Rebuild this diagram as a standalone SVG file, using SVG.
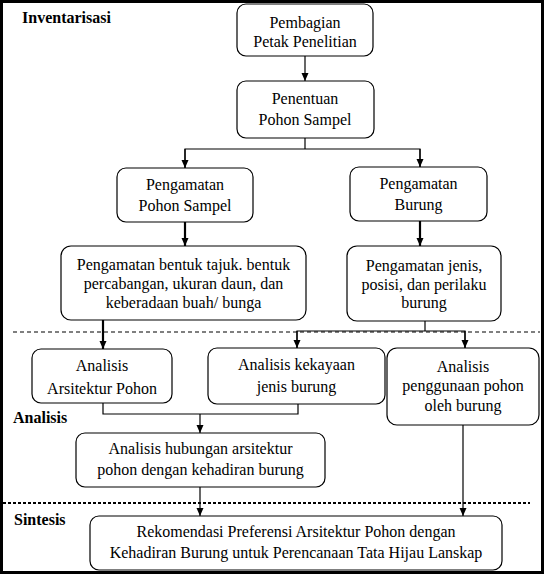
<svg xmlns="http://www.w3.org/2000/svg" width="544" height="574" viewBox="0 0 544 574">
<style>
.box{fill:#fff;stroke:#000;stroke-width:1.2}
.t{text-anchor:middle;font-size:16px;fill:#000}
.lbl{font-weight:bold;font-size:16px;fill:#000}
.c{fill:none;stroke:#000;stroke-width:1.2}
.ct{fill:none;stroke:#000;stroke-width:2.2}
.dash{fill:none;stroke:#000;stroke-width:1.2;stroke-dasharray:4 3}
.dash2{fill:none;stroke:#000;stroke-width:2;stroke-dasharray:3 2}
</style>
<defs>
<marker id="ah" markerUnits="userSpaceOnUse" markerWidth="8" markerHeight="8" refX="8" refY="3.5" orient="auto">
<path d="M0,0 L8,3.5 L0,7 z" fill="#000"/>
</marker>
</defs>
<rect x="0" y="0" width="544" height="574" fill="#fff"/>
<rect x="1.5" y="1.5" width="541" height="571" fill="none" stroke="#000" stroke-width="3"/>

<g id="section-labels" font-family="Liberation Serif, Times New Roman, serif">
<text class="lbl" x="22" y="23">Inventarisasi</text>
<text class="lbl" x="13" y="423">Analisis</text>
<text class="lbl" x="14" y="525">Sintesis</text>
</g>

<g id="dividers">
<line class="dash" x1="13" y1="332" x2="540" y2="332"/>
<line class="dash2" x1="3" y1="503" x2="530" y2="503"/>
</g>

<g id="connectors">
<line class="c" x1="305" y1="56" x2="305" y2="81" marker-end="url(#ah)"/>
<polyline class="c" points="305,138 305,149"/>
<polyline class="c" points="185,168 185,149 420,149 420,167"/>
<line class="c" x1="185" y1="149" x2="185" y2="168" marker-end="url(#ah)"/>
<line class="c" x1="420" y1="149" x2="420" y2="167" marker-end="url(#ah)"/>
<line class="ct" x1="185" y1="222" x2="185" y2="246" marker-end="url(#ah)"/>
<line class="ct" x1="420" y1="221" x2="420" y2="246" marker-end="url(#ah)"/>
<line class="ct" x1="103" y1="320" x2="103" y2="349" marker-end="url(#ah)"/>
<polyline class="c" points="425,321 425,331"/>
<polyline class="c" points="297,348 297,331 465,331 465,348"/>
<line class="c" x1="297" y1="331" x2="297" y2="348" marker-end="url(#ah)"/>
<line class="c" x1="465" y1="331" x2="465" y2="348" marker-end="url(#ah)"/>
<polyline class="c" points="103,403 103,414 298,414 298,404"/>
<line class="c" x1="200" y1="414" x2="200" y2="433" marker-end="url(#ah)"/>
<line class="c" x1="200" y1="487" x2="200" y2="516" marker-end="url(#ah)"/>
<line class="c" x1="463" y1="425" x2="463" y2="516" marker-end="url(#ah)"/>
</g>

<g id="nodes" font-family="Liberation Serif, Times New Roman, serif">
<g id="n1">
<rect class="box" x="237" y="4" width="136" height="52" rx="9"/>
<text class="t" x="305" y="28">Pembagian</text>
<text class="t" x="305" y="47">Petak Penelitian</text>
</g>
<g id="n2">
<rect class="box" x="237" y="81" width="137" height="57" rx="9"/>
<text class="t" x="305" y="104">Penentuan</text>
<text class="t" x="305" y="125">Pohon Sampel</text>
</g>
<g id="n3">
<rect class="box" x="117" y="168" width="136" height="54" rx="9"/>
<text class="t" x="185" y="190">Pengamatan</text>
<text class="t" x="185" y="211">Pohon Sampel</text>
</g>
<g id="n4">
<rect class="box" x="350" y="167" width="137" height="54" rx="9"/>
<text class="t" x="418.5" y="189">Pengamatan</text>
<text class="t" x="418.5" y="210">Burung</text>
</g>
<g id="n5">
<rect class="box" x="61" y="246" width="245" height="74" rx="10"/>
<text class="t" x="183.5" y="270">Pengamatan bentuk tajuk. bentuk</text>
<text class="t" x="183.5" y="289">percabangan, ukuran daun, dan</text>
<text class="t" x="183.5" y="308">keberadaan buah/ bunga</text>
</g>
<g id="n6">
<rect class="box" x="347" y="246" width="154" height="75" rx="10"/>
<text class="t" x="424" y="271">Pengamatan jenis,</text>
<text class="t" x="424" y="290">posisi, dan perilaku</text>
<text class="t" x="424" y="308">burung</text>
</g>
<g id="n7">
<rect class="box" x="32" y="349" width="140" height="54" rx="9"/>
<text class="t" x="102" y="371">Analisis</text>
<text class="t" x="102" y="394">Arsitektur Pohon</text>
</g>
<g id="n8">
<rect class="box" x="208" y="348" width="177" height="56" rx="9"/>
<text class="t" x="296.5" y="370">Analisis kekayaan</text>
<text class="t" x="296.5" y="392">jenis burung</text>
</g>
<g id="n9">
<rect class="box" x="387" y="348" width="152" height="77" rx="10"/>
<text class="t" x="463" y="372">Analisis</text>
<text class="t" x="463" y="391">penggunaan pohon</text>
<text class="t" x="463" y="411">oleh burung</text>
</g>
<g id="n10">
<rect class="box" x="76" y="433" width="249" height="54" rx="9"/>
<text class="t" x="200.5" y="454">Analisis hubungan arsitektur</text>
<text class="t" x="200.5" y="475">pohon dengan kehadiran burung</text>
</g>
<g id="n11">
<rect class="box" x="90" y="516" width="412" height="54" rx="9"/>
<text class="t" x="296" y="537">Rekomendasi Preferensi Arsitektur Pohon dengan</text>
<text class="t" x="296" y="558">Kehadiran Burung untuk Perencanaan Tata Hijau Lanskap</text>
</g>
</g>
</svg>
